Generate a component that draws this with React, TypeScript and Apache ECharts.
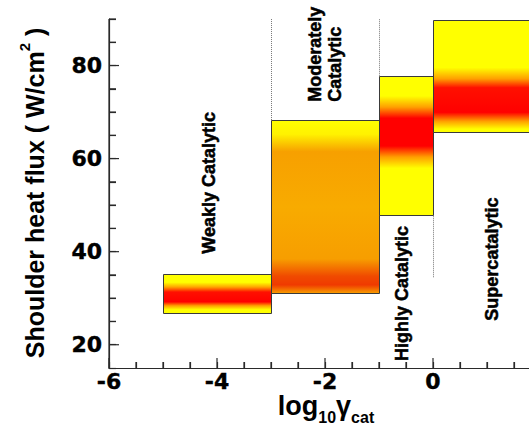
import React, { useEffect, useRef } from 'react';
import * as echarts from 'echarts';

// ---- data ----
const X_MIN = -6;
const X_MAX = 2;
const Y_MIN = 15;
const Y_MAX = 90;
const xTickLabels = [-6, -4, -2, 0];
const yTickLabels = [20, 40, 60, 80];
const xMinorTicks = [-5.5, -5, -4.5, -3.5, -3, -2.5, -1.5, -1, -0.5, 0.5, 1, 1.5];
const yMinorTicks = [25, 30, 35, 45, 50, 55, 65, 70, 75, 85, 90];
const regimes = ['Weakly Catalytic', 'Moderately\nCatalytic', 'Highly Catalytic', 'Supercatalytic'];
const boxXStart = [-5, -3, -1, 0];
const boxXEnd = [-3, -1, 0, 2];
const boxYLow = [26.8, 31.1, 47.8, 65.8];
const boxYHigh = [35.3, 68.3, 77.8, 89.7];
const labelX = [-4.15, -2.0, -0.57, 1.1];
const labelY = [54.8, 72.2, 31.0, 38.4];
const dividerX = [-3, -1, 0];
const dividerYLow = [68.3, 77.8, 34.5];
const dividerYHigh = [90, 90, 47.8];

// ---- styles ----
const labelAlign = ['center', 'left', 'center', 'center'];
const gradients: [number, string][][] = [
  [[0, '#FFFF00'], [0.2, '#FFFF00'], [0.32, '#FFA500'], [0.45, '#FF1000'], [0.7, '#FF0000'], [0.8, '#FFA000'], [0.9, '#FFFF00'], [1, '#FFFF00']],
  [[0, '#FFFF00'], [0.08, '#FFF200'], [0.18, '#F7A000'], [0.5, '#F8AB00'], [0.8, '#F79E00'], [0.9, '#F04A00'], [0.95, '#F03A00'], [1, '#F8A000']],
  [[0, '#FFFF00'], [0.14, '#FFFF00'], [0.22, '#FFA000'], [0.3, '#FF0000'], [0.5, '#FF0000'], [0.58, '#FFA000'], [0.66, '#FFFF00'], [1, '#FFFF00']],
  [[0, '#FFFF00'], [0.42, '#FFFF00'], [0.52, '#FFA000'], [0.6, '#FF1000'], [0.82, '#FF0000'], [0.9, '#FFA000'], [0.97, '#FFFF00'], [1, '#FFFF00']],
];
const TITLE_FONT = '"Liberation Sans", Arial, sans-serif';
const TICK_FONT = '"DejaVu Sans", sans-serif';
const AXIS_COLOR = '#2a2a2a';
const AXIS_WIDTH = 1.2;

export default function App() {
  const ref = useRef<HTMLDivElement>(null);
  useEffect(() => {
    if (!ref.current) return;
    const chart = echarts.init(ref.current, undefined, { renderer: 'svg' });
    const boxData = boxXStart.map((x, i) => [x, boxXEnd[i], boxYLow[i], boxYHigh[i]]);
    const dividerData = dividerX.map((x, i) => [x, dividerYLow[i], dividerYHigh[i]]);
    const labelData = labelX.map((x, i) => [x, labelY[i], i]);
    // [value, axis (0 = x, 1 = y, 2 = y axis line), tick length]
    const decoData = [
      [Y_MIN, 2, 0],
      ...xTickLabels.map((v) => [v, 0, 10]),
      ...xMinorTicks.map((v) => [v, 0, 6]),
      ...yTickLabels.map((v) => [v, 1, 10]),
      ...yMinorTicks.map((v) => [v, 1, 7]),
    ];
    const tickLabel = {
      color: '#000', fontFamily: TICK_FONT, fontWeight: 'bold', fontSize: 22,
      textBorderColor: '#000', textBorderWidth: 0.4,
    } as any;
    chart.setOption({
      animation: false,
      grid: { left: 109, top: 19, bottom: 66, right: -12, outerBoundsMode: 'none' },
      xAxis: {
        type: 'value', min: X_MIN, max: X_MAX, interval: 0.5,
        axisLine: { show: true, onZero: false, lineStyle: { color: AXIS_COLOR, width: AXIS_WIDTH } },
        axisTick: { show: true, inside: true, length: 6, lineStyle: { color: AXIS_COLOR, width: AXIS_WIDTH } },
        axisLabel: {
          ...tickLabel, margin: 2,
          formatter: (v: number) => (xTickLabels.includes(v) ? String(v) : ''),
        },
        splitLine: { show: false },
      },
      yAxis: {
        type: 'value', min: Y_MIN, max: Y_MAX, interval: 5,
        axisLine: { show: true, onZero: false, lineStyle: { color: AXIS_COLOR, width: AXIS_WIDTH } },
        axisTick: { show: true, inside: true, length: 7, lineStyle: { color: AXIS_COLOR, width: AXIS_WIDTH } },
        axisLabel: {
          ...tickLabel, margin: 7,
          formatter: (v: number) => (yTickLabels.includes(v) ? String(v) : ''),
        },
        splitLine: { show: false },
      },
      graphic: [
        {
          type: 'text', x: 32, y: 193, rotation: Math.PI / 2,
          style: {
            text: '{a|Shoulder heat flux ( W/cm}{s|2}{a| )}',
            align: 'center', verticalAlign: 'middle',
            rich: {
              a: { fontFamily: TITLE_FONT, fontWeight: 'bold', fontSize: 25, fill: '#000', verticalAlign: 'bottom', padding: [5, 0, 0, 0] },
              s: { fontFamily: TITLE_FONT, fontWeight: 'bold', fontSize: 15, fill: '#000', verticalAlign: 'top' },
            },
          },
        },
        {
          type: 'text', x: 326, y: 392,
          style: {
            text: '{a|log}{b|10}{a|γ}{b|cat}',
            align: 'center', verticalAlign: 'top',
            rich: {
              a: { fontFamily: TITLE_FONT, fontWeight: 'bold', fontSize: 27, fill: '#000', verticalAlign: 'top' },
              b: { fontFamily: TITLE_FONT, fontWeight: 'bold', fontSize: 16, fill: '#000', verticalAlign: 'bottom', padding: [17, 0, 0, 0] },
            },
          },
        },
      ],
      series: [
        {
          type: 'custom',
          data: boxData,
          renderItem: (params: any, api: any) => {
            const i = params.dataIndex;
            const p0 = api.coord([api.value(0), api.value(3)]);
            const p1 = api.coord([api.value(1), api.value(2)]);
            return {
              type: 'rect',
              shape: { x: Math.round(p0[0]) + 0.5, y: Math.round(p0[1]) + 0.5, width: Math.round(p1[0]) - Math.round(p0[0]), height: Math.round(p1[1]) - Math.round(p0[1]) },
              style: {
                fill: new echarts.graphic.LinearGradient(0, 0, 0, 1, gradients[i].map(([offset, color]) => ({ offset, color }))),
                stroke: '#3a3a3a', lineWidth: 1,
              },
            };
          },
        },
        {
          type: 'custom',
          data: dividerData,
          renderItem: (params: any, api: any) => {
            const a = api.coord([api.value(0), api.value(1)]);
            const b = api.coord([api.value(0), api.value(2)]);
            const x = Math.round(a[0]) + 0.5;
            return {
              type: 'line',
              shape: { x1: x, y1: a[1], x2: x, y2: b[1] },
              style: { stroke: '#777', lineWidth: 1, lineDash: [1, 1] },
            };
          },
        },
        {
          type: 'custom',
          data: decoData,
          renderItem: (params: any, api: any) => {
            const v = api.value(0);
            const kind = api.value(1);
            const len = api.value(2);
            const w = AXIS_WIDTH;
            if (kind === 2) {
              const top = api.coord([X_MIN, Y_MAX]);
              const bottom = api.coord([X_MIN, Y_MIN]);
              return {
                type: 'rect',
                shape: { x: top[0] - w / 2, y: top[1], width: w, height: bottom[1] - top[1] + w / 2 },
                style: { fill: AXIS_COLOR },
              };
            }
            if (kind === 1) {
              const p = api.coord([X_MIN, v]);
              return {
                type: 'rect',
                shape: { x: p[0], y: p[1] - w / 2, width: len, height: w },
                style: { fill: AXIS_COLOR },
              };
            }
            const p = api.coord([v, Y_MIN]);
            return {
              type: 'rect',
              shape: { x: p[0] - w / 2, y: p[1] - len, width: w, height: len },
              style: { fill: AXIS_COLOR },
            };
          },
        },
        {
          type: 'custom',
          data: labelData,
          renderItem: (params: any, api: any) => {
            const i = params.dataIndex;
            const p = api.coord([api.value(0), api.value(1)]);
            return {
              type: 'text', x: p[0], y: p[1], rotation: Math.PI / 2,
              style: {
                text: regimes[i], align: labelAlign[i], verticalAlign: 'middle',
                fontFamily: TITLE_FONT, fontWeight: 'bold', fontSize: 18, fill: '#000', lineHeight: 20,
                stroke: '#000', lineWidth: 0.5,
              },
            };
          },
        },
      ],
    });
    return () => chart.dispose();
  }, []);
  return <div ref={ref} style={{ width: 529, height: 434, position: 'absolute', left: 0, top: 0 }} />;
}
